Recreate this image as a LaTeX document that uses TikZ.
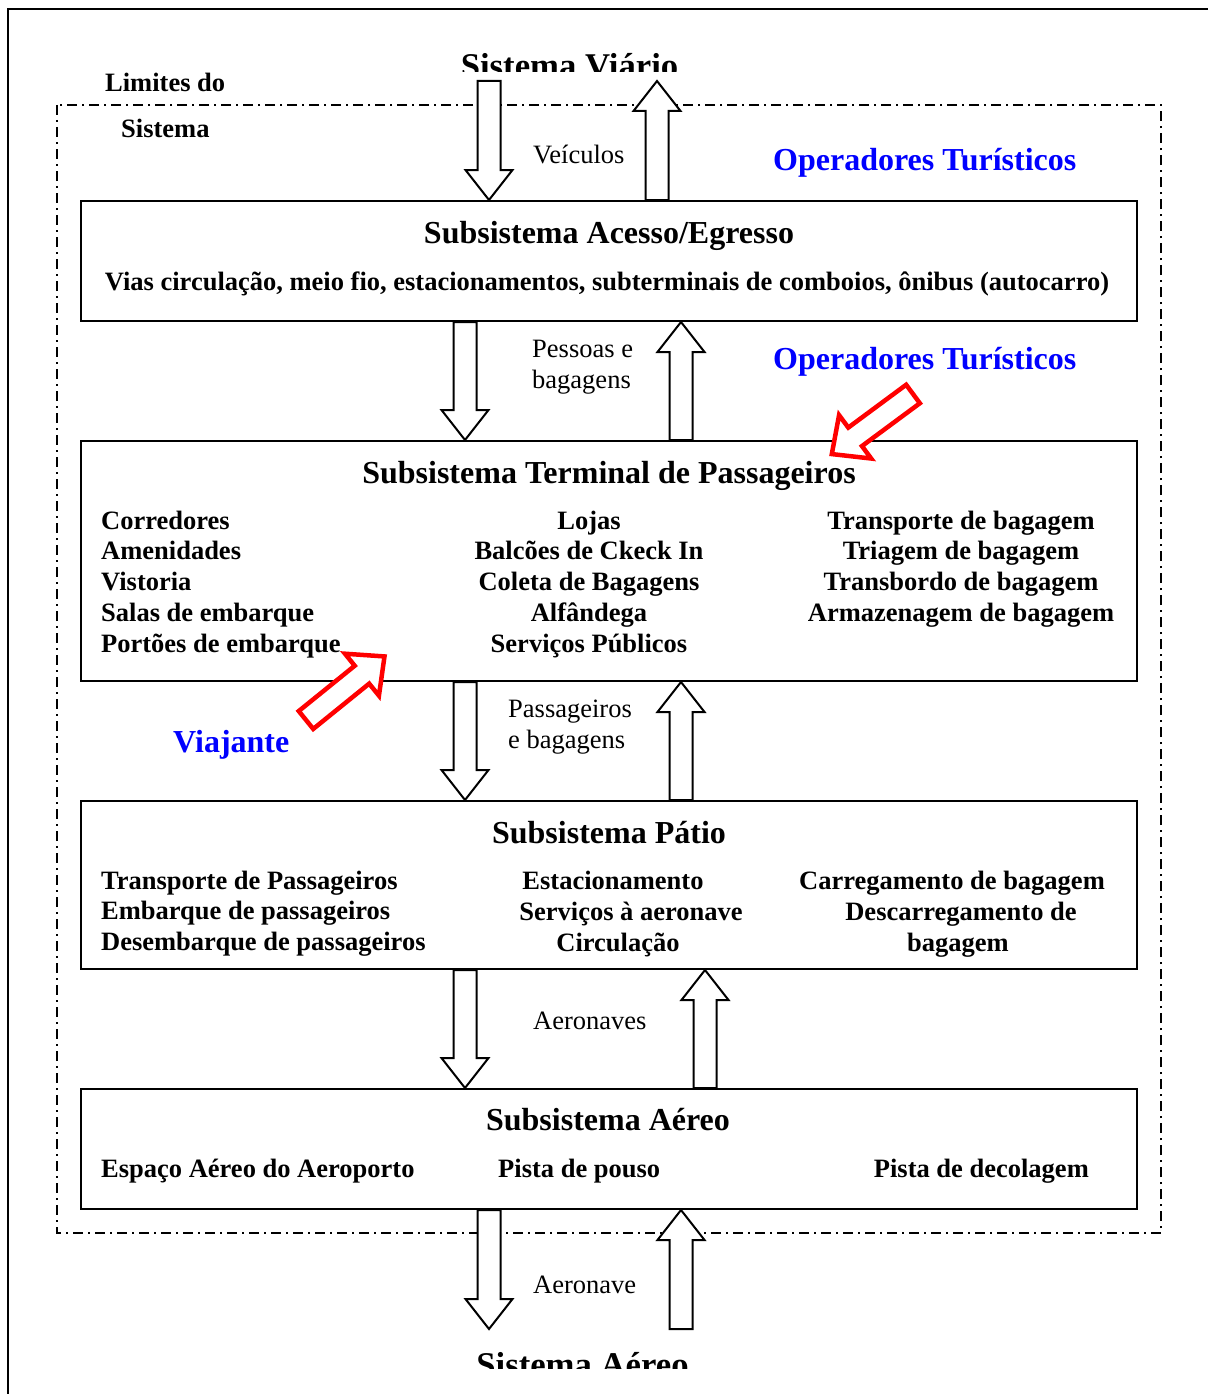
\documentclass[tikz,border=0pt]{standalone}
\usepackage{fontspec}
\setmainfont{Liberation Serif}
\usetikzlibrary{calc}

\newcommand{\txtsize}{\fontsize{26.5}{30.75}\selectfont}
\newcommand{\ttlsize}{\fontsize{32}{38}\selectfont}
\newcommand{\syssize}{\fontsize{34.7}{40}\selectfont}

\tikzset{
  subsys/.style={draw,line width=2pt,minimum width=1056pt,inner sep=0pt},
  ttl/.style={font=\ttlsize\bfseries,inner sep=0pt,anchor=base},
  item/.style={font=\txtsize\bfseries,inner sep=0pt},
  lbl/.style={font=\txtsize,inner sep=0pt,anchor=base west},
  oper/.style={font=\ttlsize\bfseries,text=blue,inner sep=0pt,anchor=base west},
  blockarr/.style={draw,line width=2pt,fill=white,line join=miter},
  redarr/.style={draw=red,line width=4.5pt,fill=white,line join=miter},
  limite/.style={line width=2pt,dash pattern=on 10pt off 5pt on 2pt off 5pt}
}

% hollow block arrows: #1 tail, #2 tip
\newcommand{\arrdown}[2]{%
  \draw[blockarr] let \p1=#1, \p2=#2 in
    (\x1-11.5pt,\y1) -- (\x1-11.5pt,\y2+30pt) -- (\x1-23.5pt,\y2+30pt) -- (\x1,\y2)
    -- (\x1+23.5pt,\y2+30pt) -- (\x1+11.5pt,\y2+30pt) -- (\x1+11.5pt,\y1) -- cycle;}
\newcommand{\arrup}[2]{%
  \draw[blockarr] let \p1=#1, \p2=#2 in
    (\x1-11.5pt,\y1) -- (\x1-11.5pt,\y2-30pt) -- (\x1-23.5pt,\y2-30pt) -- (\x1,\y2)
    -- (\x1+23.5pt,\y2-30pt) -- (\x1+11.5pt,\y2-30pt) -- (\x1+11.5pt,\y1) -- cycle;}
% red pointer: #1 tail centre, #2 angle
\newcommand{\redarrow}[2]{%
  \draw[redarr,shift={#1},rotate=#2]
    (0,-11.5) -- (72,-11.5) -- (72,-27) -- (101,0) -- (72,27) -- (72,11.5) -- (0,11.5) -- cycle;}

\begin{document}
\begin{tikzpicture}[x=1pt,y=-1pt]
  \useasboundingbox (0,0) rectangle (1207,1394);
  \draw[line width=2pt] (8,1400) -- (8,9) -- (1215,9);
  \draw[limite] (57,105) rectangle (1161,1233);

  \node[item,anchor=base west] (lim1) at (105,92) {Limites do};
  \node[item,anchor=base west] (lim2) at (121,138) {Sistema};

  \begin{scope}
    \clip (0,0) rectangle (1207,72);
    \node[font=\syssize\bfseries,inner sep=0pt,anchor=base] (viario) at (569.5,78) {Sistema Viário};
  \end{scope}
  \begin{scope}
    \clip (0,1340) rectangle (1207,1368);
    \node[font=\syssize\bfseries,inner sep=0pt,anchor=base] (aereo) at (582.5,1376) {Sistema Aéreo};
  \end{scope}

  % subsystems
  \node[subsys,minimum height=120pt] (acesso) at (609,261) {};
  \node[subsys,minimum height=240pt] (terminal) at (609,561) {};
  \node[subsys,minimum height=168pt] (patio) at (609,885) {};
  \node[subsys,minimum height=120pt] (aer) at (609,1149) {};

  \node[ttl] (acesso-t) at (609,243) {Subsistema Acesso/Egresso};
  \node[item,anchor=base] (acesso-b) at (607,290)
    {Vias circulação, meio fio, estacionamentos, subterminais de comboios, ônibus (autocarro)};

  \node[ttl] (terminal-t) at (609,483) {Subsistema Terminal de Passageiros};
  \foreach \t [count=\i] in {Corredores,Amenidades,Vistoria,Salas de embarque,Portões de embarque}
    \node[item,anchor=base west] (tl\i) at (101,{498.25+30.75*\i}) {\t};
  \foreach \t [count=\i] in {Lojas,Balcões de Ckeck In,Coleta de Bagagens,Alfândega,Serviços Públicos}
    \node[item,anchor=base] (tm\i) at (589,{498.25+30.75*\i}) {\t};
  \foreach \t [count=\i] in {Transporte de bagagem,Triagem de bagagem,Transbordo de bagagem,Armazenagem de bagagem}
    \node[item,anchor=base] (tr\i) at (961,{498.25+30.75*\i}) {\t};

  \node[ttl] (patio-t) at (609,843) {Subsistema Pátio};
  \foreach \t [count=\i] in {Transporte de Passageiros,Embarque de passageiros,Desembarque de passageiros}
    \node[item,anchor=base west] (pl\i) at (101,{858.25+30.75*\i}) {\t};
  \node[item,anchor=base] (pm1) at (613,889) {Estacionamento};
  \node[item,anchor=base] (pm2) at (631,920) {Serviços à aeronave};
  \node[item,anchor=base] (pm3) at (618,951) {Circulação};
  \node[item,anchor=base] (pr1) at (952,889) {Carregamento de bagagem};
  \node[item,anchor=base] (pr2) at (961,920) {Descarregamento de};
  \node[item,anchor=base] (pr3) at (958,951) {bagagem};

  \node[ttl] (aer-t) at (608,1130) {Subsistema Aéreo};
  \node[item,anchor=base west] (al) at (101,1177) {Espaço Aéreo do Aeroporto};
  \node[item,anchor=base west] (am) at (498,1177) {Pista de pouso};
  \node[item,anchor=base east] (ar) at (1089,1177) {Pista de decolagem};

  % flows
  \coordinate (vin) at (489,81);
  \coordinate (vout) at (657,81);
  \coordinate (ain) at (681,1329);
  \coordinate (aout) at (489,1329);
  \arrdown{(vin)}{(vin |- acesso.north)}
  \arrup{(vout |- acesso.north)}{(vout)}
  \arrdown{(465,0 |- acesso.south)}{(465,0 |- terminal.north)}
  \arrup{(681,0 |- terminal.north)}{(681,0 |- acesso.south)}
  \arrdown{(465,0 |- terminal.south)}{(465,0 |- patio.north)}
  \arrup{(681,0 |- patio.north)}{(681,0 |- terminal.south)}
  \arrdown{(465,0 |- patio.south)}{(465,0 |- aer.north)}
  \arrup{(705,0 |- aer.north)}{(705,0 |- patio.south)}
  \arrdown{(aout |- aer.south)}{(aout)}
  \arrup{(ain)}{(ain |- aer.south)}

  \node[lbl] (f1) at (533,164) {Veículos};
  \node[lbl] (f2a) at (532,357) {Pessoas e};
  \node[lbl] (f2b) at (532,388) {bagagens};
  \node[lbl] (f3a) at (508,717) {Passageiros};
  \node[lbl] (f3b) at (508,748) {e bagagens};
  \node[lbl] (f4) at (533,1029) {Aeronaves};
  \node[lbl] (f5) at (533,1293) {Aeronave};

  \node[oper] (op1) at (773,170) {Operadores Turísticos};
  \node[oper] (op2) at (773,369) {Operadores Turísticos};
  \node[oper] (viaj) at (173,752) {Viajante};

  \redarrow{(913,394)}{216.5}
  \redarrow{(306,720)}{39}
\end{tikzpicture}
\end{document}
